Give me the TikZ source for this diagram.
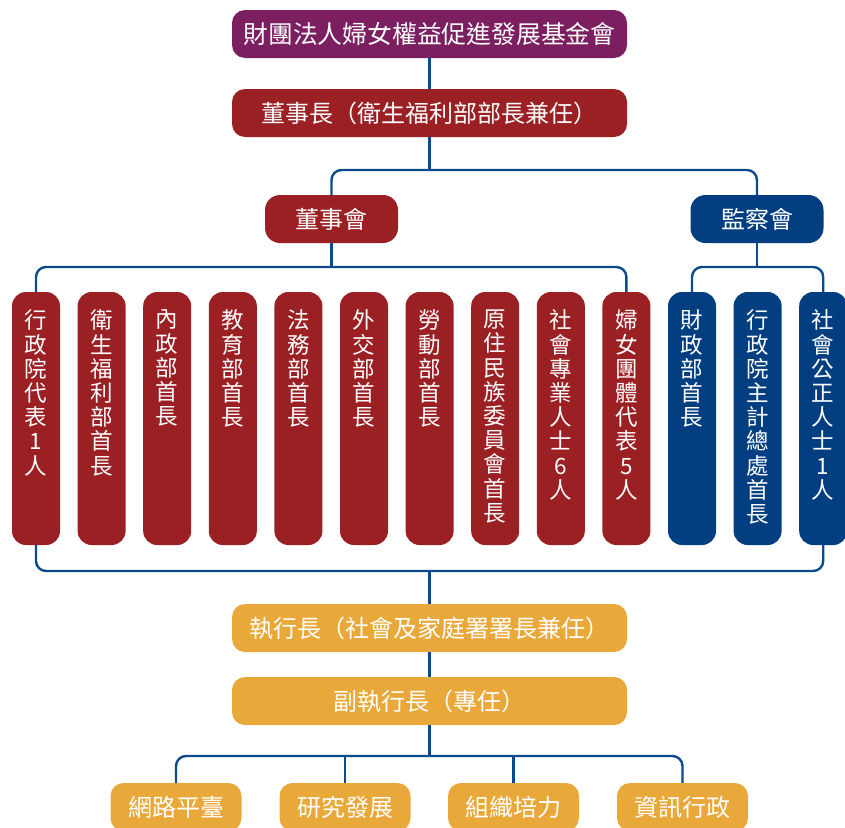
\documentclass[tikz,border=0pt]{standalone}
\usepackage{fontspec}
\setmainfont{Noto Sans CJK TC}
\definecolor{cpurple}{HTML}{7B1F61}
\definecolor{cred}{HTML}{9B2024}
\definecolor{cblue}{HTML}{033F80}
\definecolor{corange}{HTML}{E9A93A}
\definecolor{cline}{HTML}{0B4A8B}
\newcommand{\vtxt}[1]{\parbox[c][217pt][t]{44pt}{\centering #1}}
\begin{document}
\begin{tikzpicture}[x=1pt,y=-1pt,
  hbox/.style={rectangle, rounded corners=13pt, text=white, inner sep=0pt,
    minimum width=395pt, minimum height=48pt, font=\fontsize{24}{26}\selectfont},
  midbox/.style={rectangle, rounded corners=15pt, text=white, inner sep=0pt,
    minimum width=133pt, minimum height=48pt, font=\fontsize{24}{26}\selectfont},
  colbox/.style={rectangle, rounded corners=14pt, text=white, inner sep=0pt,
    minimum width=48pt, minimum height=253pt, font=\fontsize{22.5}{24.2}\selectfont},
  unitbox/.style={rectangle, rounded corners=13pt, text=white, inner sep=0pt,
    minimum width=131pt, minimum height=48pt, fill=corange, font=\fontsize{24}{26}\selectfont},
  conn/.style={draw=cline, line width=2.4pt},
  bus/.style={conn, rounded corners=10pt}]
\useasboundingbox (0,0) rectangle (845,827);

% top chain
\node[hbox, fill=cpurple, font=\fontsize{24.8}{27}\selectfont] (fund) at (429.5,34) {財團法人婦女權益促進發展基金會};
\node[hbox, fill=cred, xshift=3pt] (chair) at (426.5,113) {董事長（衛生福利部部長兼任）};
\node[midbox, fill=cred] (board) at (331.5,219) {董事會};
\node[midbox, fill=cblue] (sup) at (757,219) {監察會};

% columns
\node[colbox, fill=cred] (c1) at (36,418.5) {\vtxt{行\\政\\院\\代\\表\\1\\人}};
\node[colbox, fill=cred] (c2) at (101.6,418.5) {\vtxt{衛\\生\\福\\利\\部\\首\\長}};
\node[colbox, fill=cred] (c3) at (167.2,418.5) {\vtxt{內\\政\\部\\首\\長}};
\node[colbox, fill=cred] (c4) at (232.8,418.5) {\vtxt{教\\育\\部\\首\\長}};
\node[colbox, fill=cred] (c5) at (298.4,418.5) {\vtxt{法\\務\\部\\首\\長}};
\node[colbox, fill=cred] (c6) at (364,418.5) {\vtxt{外\\交\\部\\首\\長}};
\node[colbox, fill=cred] (c7) at (429.6,418.5) {\vtxt{勞\\動\\部\\首\\長}};
\node[colbox, fill=cred] (c8) at (495.2,418.5) {\vtxt{原\\住\\民\\族\\委\\員\\會\\首\\長}};
\node[colbox, fill=cred] (c9) at (560.8,418.5) {\vtxt{社\\會\\專\\業\\人\\士\\6\\人}};
\node[colbox, fill=cred] (c10) at (626.4,418.5) {\vtxt{婦\\女\\團\\體\\代\\表\\5\\人}};
\node[colbox, fill=cblue] (c11) at (692,418.5) {\vtxt{財\\政\\部\\首\\長}};
\node[colbox, fill=cblue] (c12) at (757.6,418.5) {\vtxt{行\\政\\院\\主\\計\\總\\處\\首\\長}};
\node[colbox, fill=cblue] (c13) at (823.2,418.5) {\vtxt{社\\會\\公\\正\\人\\士\\1\\人}};

% executive chain
\node[hbox, fill=corange] (ceo) at (429.5,628) {執行長（社會及家庭署署長兼任）};
\node[hbox, fill=corange] (dceo) at (429.5,701) {副執行長（專任）};
\node[unitbox] (u1) at (176,807) {網路平臺};
\node[unitbox] (u2) at (345,807) {研究發展};
\node[unitbox] (u3) at (513.5,807) {組織培力};
\node[unitbox] (u4) at (682.5,807) {資訊行政};

% bus points
\coordinate (b1) at (429.5,170);
\coordinate (b2) at (331.5,267);
\coordinate (b3) at (757,267);
\coordinate (b4) at (429.5,571);
\coordinate (b5) at (429.5,756);

% connectors
\draw[conn] (fund.south) -- (chair.north);
\draw[conn] (chair.south) -- (b1);
\draw[bus] (board.north) |- (b1) -| (sup.north);
\draw[conn] (board.south) -- (b2);
\draw[bus] (c1.north) |- (b2) -| (c10.north);
\draw[conn] (sup.south) -- (b3);
\draw[bus] (c11.north) |- (b3) -| (c13.north);
\draw[bus] (c1.south) |- (b4) -| (c13.south);
\draw[conn] (b4) -- (ceo.north);
\draw[conn] (ceo.south) -- (dceo.north);
\draw[conn] (dceo.south) -- (b5);
\draw[bus] (u1.north) |- (b5) -| (u4.north);
\draw[conn] (u2.north) -- (u2.north |- b5);
\draw[conn] (u3.north) -- (u3.north |- b5);
\end{tikzpicture}
\end{document}
